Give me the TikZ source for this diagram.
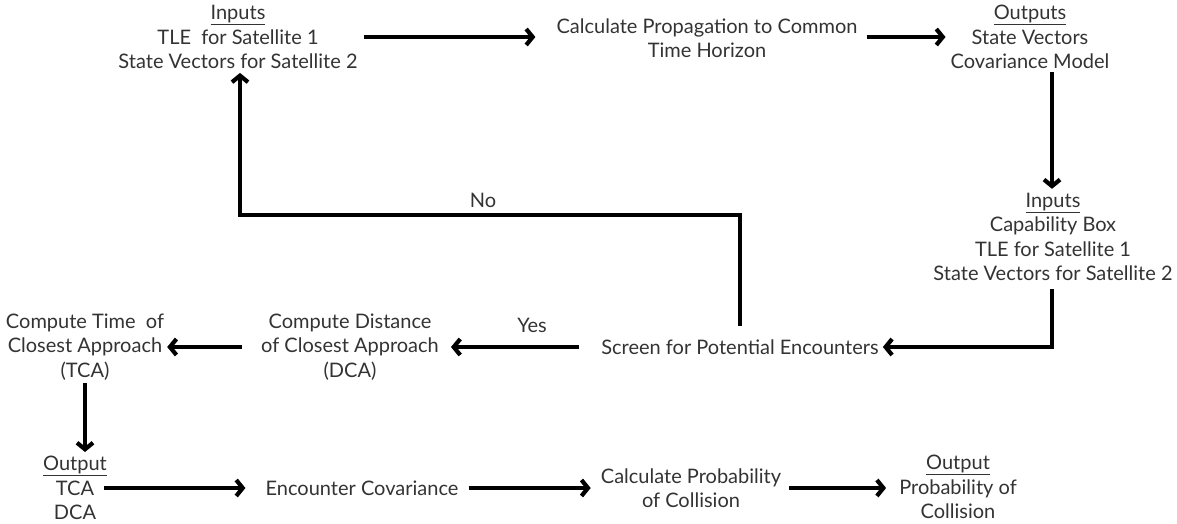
\documentclass[tikz,border=0pt]{standalone}
\usepackage{fontspec}
\setmainfont{Lato}
\usetikzlibrary{arrows.meta}
\definecolor{txtgray}{HTML}{333333}
\tikzset{
  txt/.style={font=\fontsize{20}{24.5}\selectfont, text=txtgray, align=center, inner sep=0pt},
  arr/.style={line width=4.5pt, -{Straight Barb[length=6.5pt,width=16pt,line width=4.2pt]}},
  ln/.style={line width=4.5pt}
}
\begin{document}
\begin{tikzpicture}[x=1pt,y=-1pt]
\useasboundingbox (0,0) rectangle (1177,524);
\node[txt] (in1) at (238,37) {\underline{Inputs}\\TLE\ \ for Satellite 1\\State Vectors for Satellite 2};
\node[txt] (calc) at (707,38) {Calculate Propagation to Common\\Time Horizon};
\node[txt] (out1) at (1030,37) {\underline{Outputs}\\State Vectors\\Covariance Model};
\node[txt] (in2) at (1053,237) {\underline{Inputs}\\Capability Box\\TLE for Satellite 1\\State Vectors for Satellite 2};
\node[txt] (screen) at (740,347) {Screen for Potential Encounters};
\node[txt] (dca) at (350,347) {Compute Distance\\of Closest Approach\\(DCA)};
\node[txt] (tca) at (85,347) {Compute Time\ \ of\\Closest Approach\\(TCA)};
\node[txt] (out2) at (75,488) {\underline{Output}\\TCA\\DCA};
\node[txt] (enc) at (362,488) {Encounter Covariance};
\node[txt] (prob) at (691,488) {Calculate Probability\\of Collision};
\node[txt] (out3) at (958,487) {\underline{Output}\\Probability of\\Collision};
\node[txt] (no) at (483,200) {No};
\node[txt] (yes) at (532,325) {Yes};
\coordinate (c1) at (740,215);
\coordinate (c2) at (240,215);
\coordinate (c3) at (1052,347);
\draw[arr] ([xshift=6pt]in1.east) -- ([xshift=-21pt]calc.west |- in1.east);
\draw[arr] ([xshift=9pt]calc.east |- in1.east) -- ([xshift=-5pt]out1.west);
\draw[arr] ([yshift=-3pt]out1.south -| c3) -- ([yshift=4pt]in2.north -| c3);
\draw[arr] ([yshift=-8pt]in2.south -| c3) -- (c3) -- ([xshift=4pt]screen.east);
\draw[arr] ([yshift=13pt]screen.north) -- (c1) -- (c2) -- ([yshift=-4pt]in1.south -| c2);
\draw[arr] ([xshift=-22pt]screen.west) -- ([xshift=12pt]dca.east);
\draw[arr] ([xshift=-19pt]dca.west) -- ([xshift=3pt]tca.east);
\draw[arr] ([yshift=-3pt]tca.south) -- ([yshift=4pt]out2.north -| tca.south);
\draw[arr] ([xshift=-3pt]out2.east) -- ([xshift=-20pt]enc.west);
\draw[arr] ([xshift=10pt]enc.east) -- ([xshift=-10pt]prob.west);
\draw[arr] ([xshift=8pt]prob.east) -- ([xshift=-13pt]out3.west |- prob.east);
\end{tikzpicture}
\end{document}
